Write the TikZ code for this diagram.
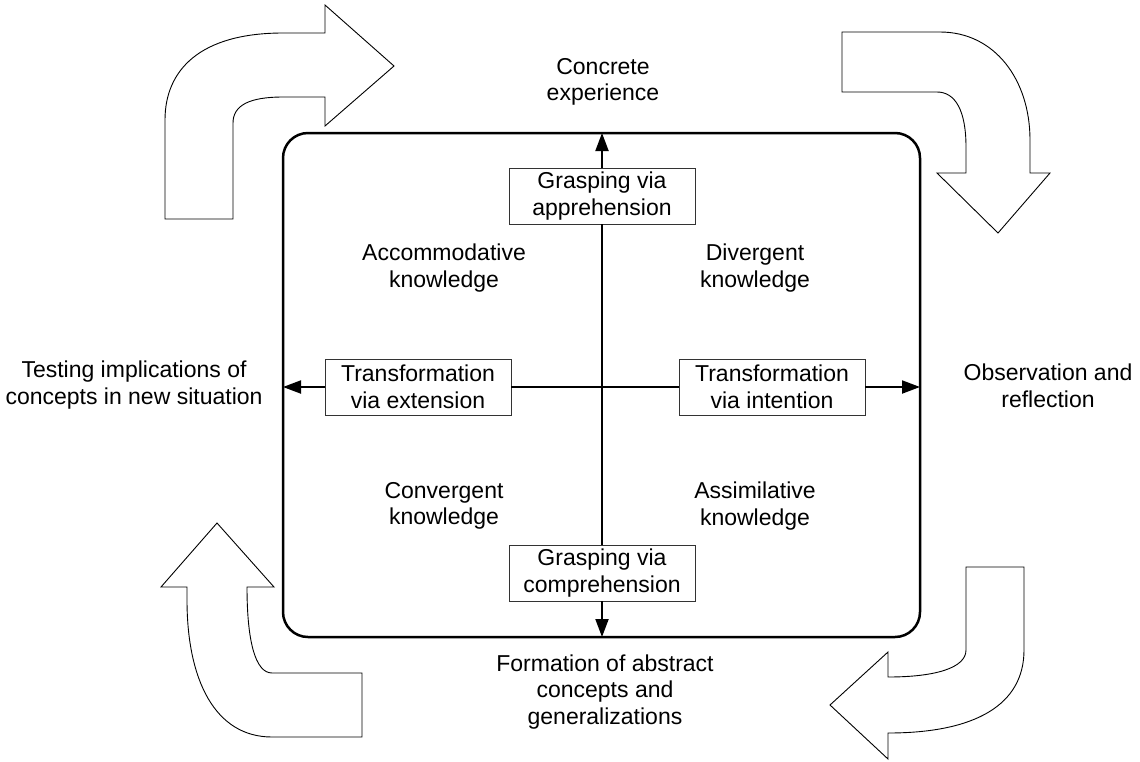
\documentclass[tikz,border=0pt]{standalone}
\usepackage{fontspec}
\setmainfont{Liberation Sans}
\usetikzlibrary{arrows.meta}
\tikzset{
  lbl/.style={align=center,inner sep=0pt,font=\fontsize{23}{26.5}\selectfont},
  modebox/.style={lbl,draw=black!80,line width=0.9pt,fill=white,minimum width=186pt,minimum height=56pt},
  axis/.style={line width=2pt},
  axisarrow/.style={axis,-{Triangle[length=18pt,width=13pt]}},
  bigarrow/.style={draw=black,line width=0.9pt,fill=white,line join=miter},
  frame/.style={line width=2.5pt,rounded corners=25pt}
}
\begin{document}
\begin{tikzpicture}[x=1pt,y=-1pt]
\useasboundingbox (0,0) rectangle (1140,761);
% frame
\draw[frame] (283,133) rectangle (920,637);
\coordinate (ftop) at (602,133);
\coordinate (fbot) at (602,637);
\coordinate (fleft) at (283,387);
\coordinate (fright) at (920,387);
% boxes
\node[modebox] (app) at (602,196) {Grasping via\\apprehension};
\node[modebox] (comp) at (602,573) {Grasping via\\comprehension};
\node[modebox] (ext) at (418,387) {Transformation\\via extension};
\node[modebox] (int) at (772,387) {Transformation\\via intention};
% axes
\draw[axisarrow] (app) -- (ftop);
\draw[axis] (app) -- (comp);
\draw[axisarrow] (comp) -- (fbot);
\draw[axisarrow] (ext) -- (fleft);
\draw[axis] (ext) -- (int);
\draw[axisarrow] (int) -- (fright);
% labels
\node[lbl] (ce) at (603,82) {Concrete\\experience};
\node[lbl] (acc) at (444,268) {Accommodative\\knowledge};
\node[lbl] (div) at (755,268) {Divergent\\knowledge};
\node[lbl] (test) at (134,385) {Testing implications of\\concepts in new situation};
\node[lbl] (obs) at (1048,386) {Observation and\\reflection};
\node[lbl] (conv) at (444,506) {Convergent\\knowledge};
\node[lbl] (assim) at (755,506) {Assimilative\\knowledge};
\node[lbl] (form) at (605,692) {Formation of abstract\\concepts and\\generalizations};
% curved block arrows
\path[bigarrow] (165,219) -- (233,219) -- (233,123)
  .. controls (233,105) and (250,97) .. (283,97) -- (325,97) -- (325,126)
  -- (394,66) -- (325,5) -- (325,33) -- (283,33)
  .. controls (200,33) and (165,70) .. (165,120) -- cycle;
\path[bigarrow] (842,32) -- (940,32)
  .. controls (995,32) and (1030,80) .. (1030,140) -- (1030,173) -- (1050,173)
  -- (998,233) -- (937,173) -- (966,173) -- (966,147)
  .. controls (966,110) and (955,92) .. (937,92) -- (842,92) -- cycle;
\path[bigarrow] (217,523) -- (274,587) -- (247,587)
  .. controls (247,640) and (255,673) .. (272,673) -- (362,673) -- (362,737)
  -- (272,737) .. controls (215,737) and (187,680) .. (187,600)
  -- (187,587) -- (161,587) -- cycle;
\path[bigarrow] (966,567) -- (1024,567) -- (1024,650)
  .. controls (1024,705) and (975,733) .. (888,733) -- (888,759)
  -- (830,705) -- (888,652) -- (888,677)
  .. controls (935,677) and (966,668) .. (966,650) -- cycle;
\end{tikzpicture}
\end{document}
